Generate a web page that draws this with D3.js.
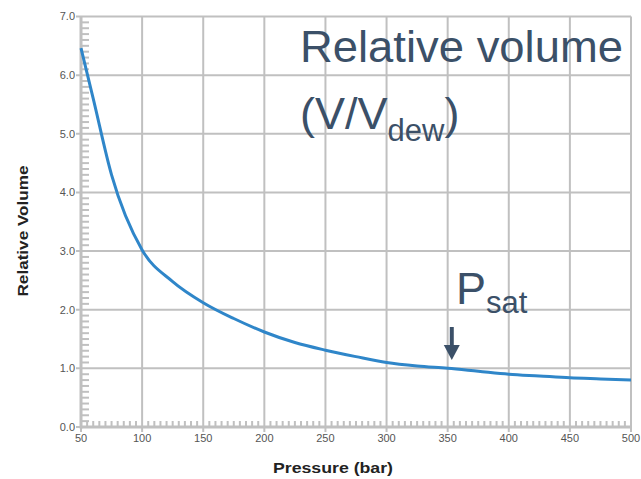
<!DOCTYPE html>
<html>
<head>
<meta charset="utf-8">
<script src="https://cdn.jsdelivr.net/npm/d3@7"></script>
<style>
  html, body { margin: 0; padding: 0; background: #fff; }
  svg { display: block; font-family: "Liberation Sans", Arial, sans-serif; }
</style>
</head>
<body>
<svg id="chart" width="641" height="479"></svg>
<script>
// Relative volume (V/Vdew) against pressure
const pressure = [50, 60, 75, 100, 125, 150, 175, 200, 225, 250, 275, 300, 325, 350, 375, 400, 425, 450, 475, 500];
const relVolume = [6.46, 5.6, 4.3, 3.02, 2.48, 2.12, 1.85, 1.62, 1.44, 1.31, 1.2, 1.1, 1.04, 1.0, 0.95, 0.9, 0.87, 0.84, 0.82, 0.8];

const xTicks = [50, 100, 150, 200, 250, 300, 350, 400, 450, 500];
const yTicks = [0, 1, 2, 3, 4, 5, 6, 7];
const pSat = 355;

const svg = d3.select("#chart");
const m = { left: 81, right: 631, top: 16.5, bottom: 427 };

const x = d3.scaleLinear().domain([50, 500]).range([m.left, m.right]);
const y = d3.scaleLinear().domain([0, 7]).range([m.bottom, m.top]);

const gridColor = "#c0c0c0";
const textColor = "#3b5068";

// grid lines
svg.append("g").selectAll("line").data(xTicks).join("line")
  .attr("x1", d => x(d)).attr("x2", d => x(d))
  .attr("y1", m.top).attr("y2", m.bottom + 5)
  .attr("stroke", gridColor).attr("stroke-width", 2);
svg.append("g").selectAll("line").data(yTicks).join("line")
  .attr("x1", m.left - 5).attr("x2", m.right)
  .attr("y1", d => y(d)).attr("y2", d => y(d))
  .attr("stroke", gridColor).attr("stroke-width", 2);

// minor ticks
const xMinor = d3.range(50, 500, 5).filter(v => v % 50 !== 0);
const yMinor = d3.range(0, 70).map(i => i / 10).filter((v, i) => i % 10 !== 0);
svg.append("g").selectAll("line").data(xMinor).join("line")
  .attr("x1", d => x(d)).attr("x2", d => x(d))
  .attr("y1", m.bottom - 6).attr("y2", m.bottom)
  .attr("stroke", gridColor).attr("stroke-width", 2);
svg.append("g").selectAll("line").data(yMinor).join("line")
  .attr("x1", m.left).attr("x2", m.left + 8)
  .attr("y1", d => y(d)).attr("y2", d => y(d))
  .attr("stroke", gridColor).attr("stroke-width", 2);

// axis lines
svg.append("line").attr("x1", m.left).attr("x2", m.left)
  .attr("y1", m.top).attr("y2", m.bottom + 1.5)
  .attr("stroke", gridColor).attr("stroke-width", 3);
svg.append("line").attr("x1", m.left).attr("x2", m.right + 1)
  .attr("y1", m.bottom).attr("y2", m.bottom)
  .attr("stroke", gridColor).attr("stroke-width", 3);

// tick labels
svg.append("g").selectAll("text").data(yTicks).join("text")
  .attr("x", m.left - 6).attr("y", d => y(d)).attr("dy", "0.35em")
  .attr("text-anchor", "end").attr("font-size", 11).attr("fill", "#555")
  .text(d => d3.format(".1f")(d));
svg.append("g").selectAll("text").data(xTicks).join("text")
  .attr("x", d => x(d)).attr("y", 442)
  .attr("text-anchor", "middle").attr("font-size", 11).attr("fill", "#555")
  .text(d => d);

// axis titles
svg.append("text")
  .attr("transform", "translate(28,231) rotate(-90)")
  .attr("text-anchor", "middle").attr("font-size", 14).attr("font-weight", "bold")
  .attr("fill", "#222")
  .attr("textLength", 131).attr("lengthAdjust", "spacingAndGlyphs")
  .text("Relative Volume");
svg.append("text")
  .attr("x", 333).attr("y", 473)
  .attr("text-anchor", "middle").attr("font-size", 14).attr("font-weight", "bold")
  .attr("fill", "#222")
  .attr("textLength", 120).attr("lengthAdjust", "spacingAndGlyphs")
  .text("Pressure (bar)");

// curve
const line = d3.line().x((d, i) => x(pressure[i])).y(d => y(d)).curve(d3.curveMonotoneX);
svg.append("path").datum(relVolume)
  .attr("d", line)
  .attr("fill", "none").attr("stroke", "#2f86c9").attr("stroke-width", 3);

// annotation: title
svg.append("text")
  .attr("x", 300).attr("y", 61.5).attr("font-size", 45).attr("fill", textColor)
  .attr("textLength", 323).attr("lengthAdjust", "spacingAndGlyphs")
  .text("Relative volume");
const t2 = svg.append("text")
  .attr("x", 300).attr("y", 128.5).attr("font-size", 45).attr("fill", textColor);
t2.append("tspan").text("(V/V");
t2.append("tspan").attr("font-size", 31).attr("dy", 12).text("dew");
t2.append("tspan").attr("dy", -12).text(")");

// annotation: saturation pressure
const t3 = svg.append("text")
  .attr("x", 456).attr("y", 304).attr("font-size", 45).attr("fill", textColor);
t3.append("tspan").text("P");
t3.append("tspan").attr("font-size", 31).attr("dy", 9).text("sat");

// arrow pointing to the curve at Psat
const ax = x(pSat) - 2;
svg.append("line")
  .attr("x1", ax).attr("x2", ax).attr("y1", 327).attr("y2", 347)
  .attr("stroke", textColor).attr("stroke-width", 4);
svg.append("path")
  .attr("d", `M${ax - 8},345 L${ax + 8},345 L${ax},360 Z`)
  .attr("fill", textColor);
</script>
</body>
</html>
